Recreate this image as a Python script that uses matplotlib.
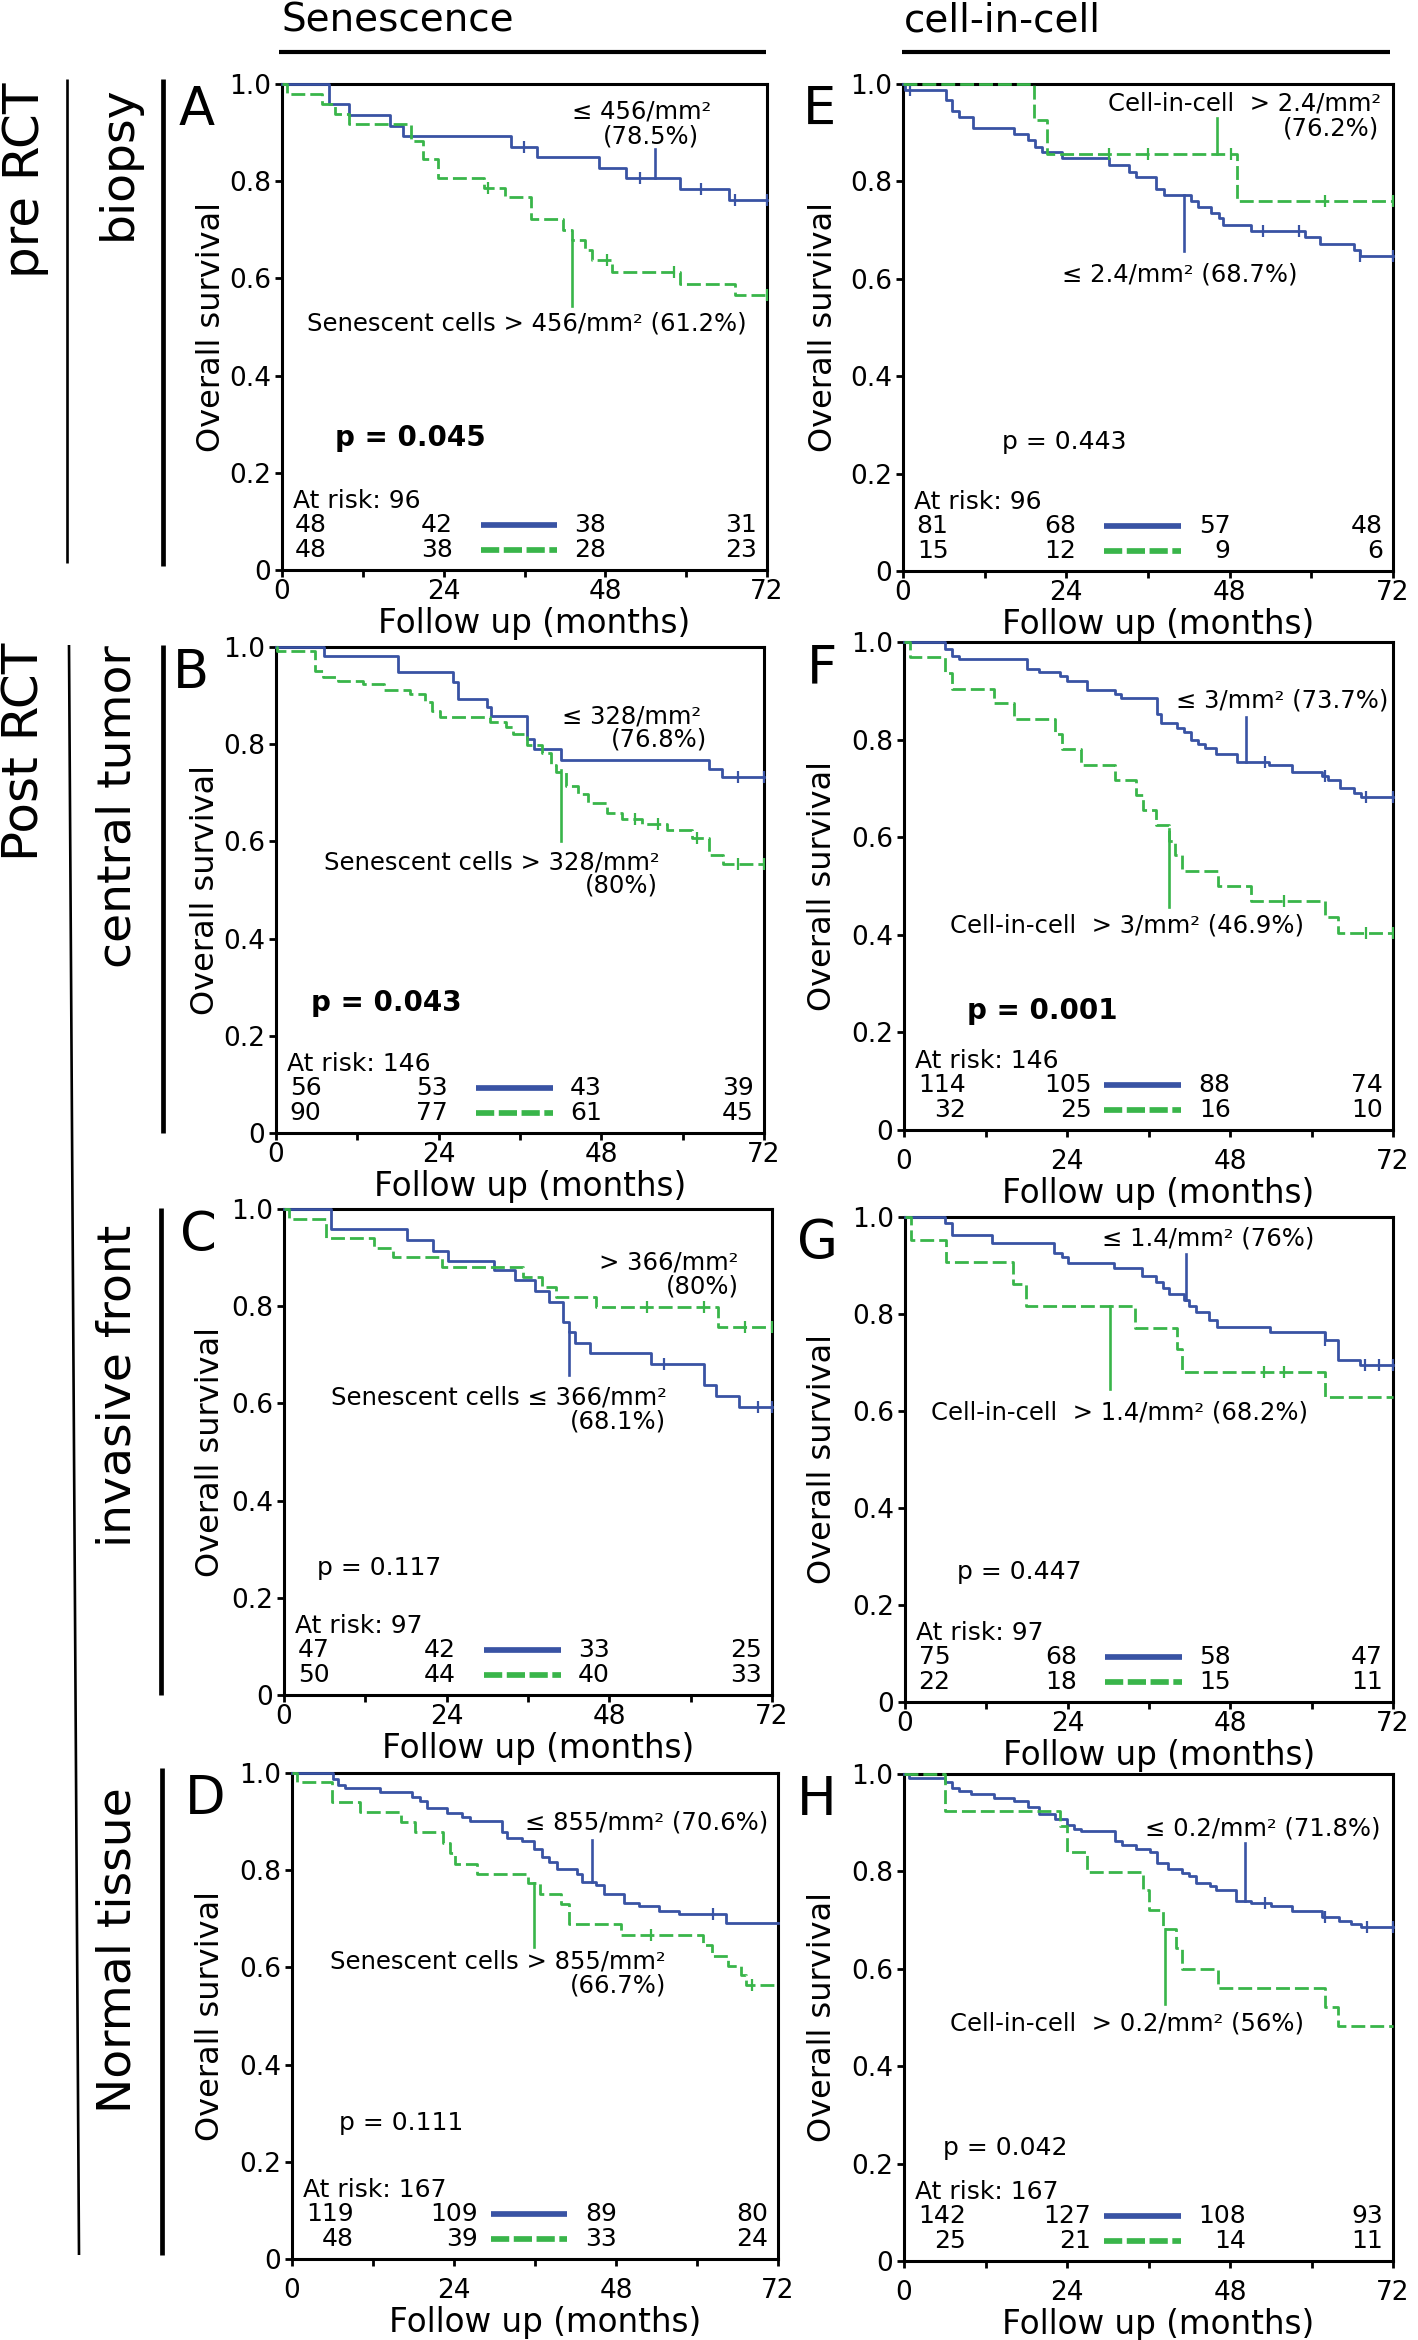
#!/usr/bin/env python3
"""Kaplan-Meier panels A-H: senescence vs cell-in-cell, pre/post RCT."""
import numpy as np
import matplotlib
matplotlib.use("Agg")
import matplotlib.pyplot as plt

W_PX, H_PX = 1418, 2340
BLUE = "#3953a4"
GREEN = "#39b54a"

# ---------------------------------------------------------------- data
# step times (months), survival after each step, censor times
# A: senescence, pre RCT biopsy
a_lo_t = [7.0, 9.9, 16.1, 17.9, 34.0, 37.9, 47.1, 51.0, 59.1, 66.3]
a_lo_s = [0.958, 0.936, 0.913, 0.893, 0.871, 0.850, 0.828, 0.806, 0.783, 0.761]
a_lo_c = [35.9, 53.2, 62.2, 67.2, 72.0]
a_hi_t = [0.7, 5.9, 7.9, 9.9, 19.1, 20.9, 23.2, 30.0, 33.1, 37.0, 41.7, 43.0,
          45.0, 46.0, 49.0, 59.1, 67.2]
a_hi_s = [0.979, 0.958, 0.938, 0.917, 0.883, 0.845, 0.807, 0.785, 0.767, 0.722,
          0.700, 0.679, 0.658, 0.638, 0.614, 0.589, 0.565]
a_hi_c = [30.6, 48.2, 58.2, 72.0]
a_risk_lo = [48, 42, 38, 31]
a_risk_hi = [48, 38, 28, 23]

# E: cell-in-cell, pre RCT biopsy
e_lo_t = [0.3, 6.3, 7.2, 8.2, 10.3, 16.3, 18.4, 19.4, 20.4, 23.4, 30.2, 33.2,
          34.2, 37.2, 38.3, 42.3, 43.3, 45.3, 46.4, 47.0, 51.1, 59.0, 61.2,
          66.3, 67.1]
e_lo_s = [0.988, 0.968, 0.945, 0.933, 0.909, 0.897, 0.885, 0.871, 0.860, 0.848,
          0.834, 0.820, 0.809, 0.785, 0.773, 0.760, 0.748, 0.736, 0.724, 0.710,
          0.698, 0.686, 0.672, 0.660, 0.647]
e_lo_c = [1.1, 52.9, 58.2, 67.1, 72.0]
e_hi_t = [19.2, 21.2, 49.1]
e_hi_s = [0.927, 0.856, 0.759]
e_hi_c = [30.2, 36.0, 48.2, 62.0, 72.0]
e_risk_lo = [81, 68, 57, 48]
e_risk_hi = [15, 12, 9, 6]

# B: senescence, post RCT central tumor
b_lo_t = [7.1, 18.0, 26.1, 26.8, 31.1, 31.7, 37.0, 38.0, 42.1, 63.9, 65.8]
b_lo_s = [0.982, 0.948, 0.929, 0.893, 0.876, 0.858, 0.810, 0.790, 0.768,
          0.750, 0.732]
b_lo_c = [68.1, 72.0]
b_hi_t = [0.2, 5.7, 7.0, 9.2, 12.9, 16.0, 19.8, 22.0, 23.0, 24.2, 31.6, 34.0,
          34.9, 37.0, 39.3, 40.6, 41.3, 42.8, 44.5, 46.1, 48.9, 51.1, 54.0,
          57.7, 61.4, 63.9, 66.0]
b_hi_s = [0.992, 0.950, 0.939, 0.931, 0.923, 0.911, 0.903, 0.887, 0.868, 0.856,
          0.846, 0.836, 0.822, 0.798, 0.781, 0.757, 0.743, 0.714, 0.698, 0.679,
          0.659, 0.647, 0.635, 0.624, 0.606, 0.572, 0.553]
b_hi_c = [52.9, 56.4, 62.1, 68.1, 72.0]
b_risk_lo = [56, 53, 43, 39]
b_risk_hi = [90, 77, 61, 45]

# F: cell-in-cell, post RCT central tumor
f_lo_t = [6.1, 7.1, 8.1, 18.1, 19.9, 22.9, 24.0, 27.0, 31.1, 32.0, 37.2, 37.9,
          40.2, 41.2, 42.3, 43.3, 44.3, 46.0, 49.0, 53.8, 57.1, 61.5, 62.4,
          64.2, 66.3, 67.3]
f_lo_s = [0.986, 0.972, 0.965, 0.945, 0.939, 0.931, 0.921, 0.902, 0.894, 0.886,
          0.852, 0.833, 0.823, 0.815, 0.800, 0.792, 0.782, 0.771, 0.755, 0.747,
          0.734, 0.725, 0.717, 0.700, 0.690, 0.682]
f_lo_c = [53.2, 62.0, 68.0, 72.0]
f_hi_t = [0.9, 6.1, 7.0, 13.2, 16.2, 22.2, 23.2, 26.0, 31.1, 34.1, 35.2, 37.1,
          39.0, 39.9, 40.9, 46.2, 51.1, 62.0, 63.9]
f_hi_s = [0.969, 0.937, 0.904, 0.876, 0.843, 0.811, 0.781, 0.748, 0.718, 0.687,
          0.656, 0.625, 0.593, 0.564, 0.530, 0.501, 0.470, 0.436, 0.403]
f_hi_c = [55.9, 68.0, 72.0]
f_risk_lo = [114, 105, 88, 74]
f_risk_hi = [32, 25, 16, 10]

# C: senescence, post RCT invasive front
c_lo_t = [7.0, 18.2, 22.0, 24.2, 31.0, 34.1, 37.0, 39.1, 41.1, 42.0, 43.0,
          45.1, 54.1, 62.0, 63.8, 67.1]
c_lo_s = [0.959, 0.936, 0.914, 0.894, 0.874, 0.853, 0.831, 0.809, 0.768, 0.747,
          0.725, 0.703, 0.682, 0.638, 0.616, 0.593]
c_lo_c = [56.1, 70.0, 72.0]
c_hi_t = [0.7, 6.2, 13.3, 16.1, 23.3, 35.2, 38.1, 40.1, 46.0, 64.0]
c_hi_s = [0.980, 0.941, 0.920, 0.901, 0.880, 0.860, 0.840, 0.819, 0.799, 0.757]
c_hi_c = [53.5, 62.0, 68.0, 72.0]
c_risk_lo = [47, 42, 33, 25]
c_risk_hi = [50, 44, 40, 33]

# G: cell-in-cell, post RCT invasive front
g_lo_t = [5.9, 6.9, 12.9, 22.0, 23.1, 24.0, 30.9, 35.0, 37.0, 38.0, 39.0, 41.1,
          41.9, 42.9, 44.8, 46.0, 53.9, 62.0, 63.9, 67.1]
g_lo_s = [0.988, 0.963, 0.947, 0.925, 0.917, 0.906, 0.894, 0.879, 0.866, 0.853,
          0.841, 0.829, 0.817, 0.804, 0.788, 0.773, 0.762, 0.747, 0.706, 0.694]
g_lo_c = [62.0, 67.9, 69.9, 72.0]
g_hi_t = [0.9, 6.0, 16.0, 17.9, 34.0, 40.1, 40.9, 61.9]
g_hi_s = [0.953, 0.908, 0.862, 0.817, 0.772, 0.727, 0.681, 0.629]
g_hi_c = [52.9, 55.9]
g_risk_lo = [75, 68, 58, 47]
g_risk_hi = [22, 18, 15, 11]

# D: senescence, post RCT normal tissue
d_lo_t = [6.0, 6.8, 7.9, 13.0, 17.8, 18.9, 20.0, 23.0, 25.2, 26.3, 31.1, 31.8,
          34.0, 35.9, 37.0, 38.1, 39.2, 42.2, 43.0, 45.1, 46.2, 49.2, 51.4,
          54.3, 57.3, 64.3]
d_lo_s = [0.988, 0.976, 0.969, 0.961, 0.950, 0.943, 0.927, 0.917, 0.909, 0.902,
          0.878, 0.866, 0.861, 0.843, 0.827, 0.817, 0.803, 0.793, 0.776, 0.769,
          0.752, 0.732, 0.726, 0.717, 0.709, 0.691]
d_lo_c = [62.3]
d_hi_t = [0.7, 5.9, 10.1, 16.2, 18.2, 22.3, 23.4, 24.1, 27.4, 34.9, 36.8, 39.9,
          41.0, 48.8, 60.9, 62.2, 64.6, 66.5, 67.2]
d_hi_s = [0.982, 0.941, 0.919, 0.899, 0.878, 0.856, 0.835, 0.813, 0.793, 0.774,
          0.752, 0.730, 0.689, 0.667, 0.646, 0.624, 0.602, 0.585, 0.563]
d_hi_c = [53.2, 68.1]
d_risk_lo = [119, 109, 89, 80]
d_risk_hi = [48, 39, 33, 24]

# H: cell-in-cell, post RCT normal tissue
h_lo_t = [0.7, 6.1, 7.0, 8.1, 9.8, 13.2, 16.2, 18.3, 19.9, 22.3, 24.0, 25.0,
          26.0, 31.1, 32.1, 34.1, 36.2, 37.2, 38.9, 40.9, 41.9, 43.0, 45.0,
          46.0, 48.9, 51.1, 54.1, 57.1, 61.5, 64.0, 65.8, 67.3]
h_lo_s = [0.992, 0.983, 0.972, 0.965, 0.958, 0.951, 0.945, 0.933, 0.917, 0.907,
          0.896, 0.888, 0.882, 0.862, 0.854, 0.846, 0.839, 0.817, 0.804, 0.797,
          0.791, 0.776, 0.770, 0.762, 0.740, 0.735, 0.728, 0.719, 0.707, 0.699,
          0.693, 0.685]
h_lo_c = [53.2, 62.0, 68.1, 72.0]
h_hi_t = [6.1, 23.0, 24.0, 27.0, 35.2, 36.1, 38.2, 40.1, 40.9, 46.2, 62.0, 63.9]
h_hi_s = [0.923, 0.894, 0.839, 0.799, 0.762, 0.720, 0.681, 0.642, 0.600, 0.561,
          0.521, 0.482]
h_hi_c = []
h_risk_lo = [142, 127, 108, 93]
h_risk_hi = [25, 21, 14, 11]

panel_keys = ["A", "E", "B", "F", "C", "G", "D", "H"]
totals = [96, 96, 146, 146, 97, 97, 167, 167]
p_values = ["0.045", "0.443", "0.043", "0.001", "0.117", "0.447", "0.111", "0.042"]
p_bold = [True, False, True, True, False, False, False, False]

# annotation strings per panel
notes = {
    "A": ["≤ 456/mm²", "(78.5%)", "Senescent cells > 456/mm² (61.2%)"],
    "E": ["≤ 2.4/mm² (68.7%)", "Cell-in-cell  > 2.4/mm²", "(76.2%)"],
    "B": ["≤ 328/mm²", "(76.8%)", "Senescent cells > 328/mm²", "(80%)"],
    "F": ["≤ 3/mm² (73.7%)", "Cell-in-cell  > 3/mm² (46.9%)"],
    "C": ["Senescent cells ≤ 366/mm²", "(68.1%)", "> 366/mm²", "(80%)"],
    "G": ["≤ 1.4/mm² (76%)", "Cell-in-cell  > 1.4/mm² (68.2%)"],
    "D": ["≤ 855/mm² (70.6%)", "Senescent cells > 855/mm²", "(66.7%)"],
    "H": ["≤ 0.2/mm² (71.8%)", "Cell-in-cell  > 0.2/mm² (56%)"],
}

curves = {
    "A": ((a_lo_t, a_lo_s, a_lo_c), (a_hi_t, a_hi_s, a_hi_c), a_risk_lo, a_risk_hi),
    "E": ((e_lo_t, e_lo_s, e_lo_c), (e_hi_t, e_hi_s, e_hi_c), e_risk_lo, e_risk_hi),
    "B": ((b_lo_t, b_lo_s, b_lo_c), (b_hi_t, b_hi_s, b_hi_c), b_risk_lo, b_risk_hi),
    "F": ((f_lo_t, f_lo_s, f_lo_c), (f_hi_t, f_hi_s, f_hi_c), f_risk_lo, f_risk_hi),
    "C": ((c_lo_t, c_lo_s, c_lo_c), (c_hi_t, c_hi_s, c_hi_c), c_risk_lo, c_risk_hi),
    "G": ((g_lo_t, g_lo_s, g_lo_c), (g_hi_t, g_hi_s, g_hi_c), g_risk_lo, g_risk_hi),
    "D": ((d_lo_t, d_lo_s, d_lo_c), (d_hi_t, d_hi_s, d_hi_c), d_risk_lo, d_risk_hi),
    "H": ((h_lo_t, h_lo_s, h_lo_c), (h_hi_t, h_hi_s, h_hi_c), h_risk_lo, h_risk_hi),
}

# ---------------------------------------------------------------- layout
# axes boxes in pixels (left, top, right, bottom)
AX_PX = {
    "A": (282, 84, 767, 570), "E": (903, 84, 1393, 571),
    "B": (276, 647, 764, 1133), "F": (904, 642, 1393, 1130),
    "C": (284, 1209, 772, 1695), "G": (905, 1217, 1393, 1702),
    "D": (292, 1773, 778, 2259), "H": (904, 1774, 1393, 2261),
}
# text placement (x, y, ha) for each note, in data units
NOTE_POS = {
    "A": [(53.4, 0.943, "center"), (54.7, 0.893, "center"), (36.4, 0.508, "center")],
    "E": [(40.7, 0.609, "center"), (70.2, 0.960, "right"), (70.0, 0.909, "right")],
    "B": [(62.7, 0.856, "right"), (63.6, 0.809, "right"), (56.6, 0.557, "right"),
          (56.4, 0.509, "right")],
    "F": [(71.3, 0.880, "right"), (32.9, 0.419, "center")],
    "C": [(56.5, 0.613, "right"), (56.3, 0.562, "right"), (67.1, 0.890, "right"),
          (67.1, 0.841, "right")],
    "G": [(44.7, 0.955, "center"), (31.7, 0.597, "center")],
    "D": [(70.5, 0.898, "right"), (55.4, 0.612, "right"), (55.4, 0.563, "right")],
    "H": [(52.8, 0.888, "center"), (32.9, 0.488, "center")],
}
# pointer lines: (x, y0, y1, group)
POINTERS = {
    "A": [(55.4, 0.806, 0.866, "lo"), (43.0, 0.679, 0.543, "hi")],
    "E": [(41.3, 0.773, 0.657, "lo"), (46.2, 0.856, 0.931, "hi")],
    "B": [(42.1, 0.746, 0.600, "hi")],
    "F": [(50.4, 0.755, 0.847, "lo"), (39.0, 0.617, 0.456, "hi")],
    "C": [(42.0, 0.747, 0.658, "lo")],
    "G": [(41.4, 0.829, 0.923, "lo"), (30.2, 0.817, 0.646, "hi")],
    "D": [(44.5, 0.776, 0.862, "lo"), (35.9, 0.774, 0.643, "hi")],
    "H": [(50.2, 0.740, 0.858, "lo"), (38.5, 0.681, 0.528, "hi")],
}
P_POS = {"A": (7.9, 0.272), "E": (14.5, 0.265), "B": (5.1, 0.268),
         "F": (9.3, 0.244), "C": (4.8, 0.261), "G": (7.7, 0.268),
         "D": (7.0, 0.280), "H": (5.7, 0.232)}
YLAB_X = {"A": -0.114, "B": -0.112, "C": -0.118, "D": -0.136,
          "E": -0.130, "F": -0.135, "G": -0.137, "H": -0.135}
LOW_ROW = {"F", "D", "H"}        # panels whose x labels sit a little lower

RISK_FS = 18
RISK_Y = [0.142, 0.092, 0.042]   # "At risk" line, low group, high group

plt.rcParams.update({"font.family": ["DejaVu Sans"], "figure.facecolor": "white"})
fig = plt.figure(figsize=(W_PX / 100, H_PX / 100), dpi=100)

# overlay in pixel coordinates for headers and row labels
ov = fig.add_axes([0, 0, 1, 1])
ov.set_xlim(0, W_PX)
ov.set_ylim(H_PX, 0)
ov.axis("off")
ov.text(281, 32, "Senescence", fontsize=28, ha="left", va="baseline")
ov.text(904, 32, "cell-in-cell", fontsize=28, ha="left", va="baseline")
ov.plot([279, 766], [52, 52], color="black", lw=3.0, solid_capstyle="butt")
ov.plot([902, 1390], [52, 52], color="black", lw=3.0, solid_capstyle="butt")

ov.text(25, 180, "pre RCT", fontsize=36, rotation=90, ha="center", va="center")
ov.text(25, 752, "Post RCT", fontsize=36, rotation=90, ha="center", va="center")
ov.plot([67, 67], [79, 563], color="black", lw=1.9, solid_capstyle="butt")
ov.plot([69, 79], [645, 2255], color="black", lw=1.9, solid_capstyle="butt")

row_names = ["biopsy", "central tumor", "invasive front", "Normal tissue"]
row_centers = [163, 807, 1386, 1950]
row_bars = [(163, 79, 566), (163, 645, 1133), (161, 1208, 1695), (162, 1768, 2255)]
for name, yc, (xb, y0, y1) in zip(row_names, row_centers, row_bars):
    ov.text(118, yc, name, fontsize=34, rotation=90, ha="center", va="center")
    ov.plot([xb, xb], [y0, y1], color="black", lw=3.4, solid_capstyle="butt")


def surv_at(t, s, x):
    idx = np.searchsorted(t, x, side="right")
    return np.r_[1.0, s][idx]


def draw_group(ax, t, s, c, color, dashed):
    xs = np.r_[0.0, t, 72.0]
    ys = np.r_[1.0, s, s[-1]]
    ls = (0, (5, 1.8)) if dashed else "-"
    ax.step(xs, ys, where="post", color=color, lw=2.0, ls=ls, zorder=3,
            clip_on=False)
    if len(c):
        ax.plot(c, surv_at(t, s, np.asarray(c)), ls="none", marker="|", ms=8,
                mew=1.6, color=color, zorder=3, clip_on=False)


for i, key in enumerate(panel_keys):
    l, t_, r, b = AX_PX[key]
    ax = fig.add_axes([l / W_PX, 1 - b / H_PX, (r - l) / W_PX, (b - t_) / H_PX])
    ax.set_xlim(0, 72)
    ax.set_ylim(0, 1)
    for sp in ax.spines.values():
        sp.set_linewidth(2.2)
    ax.set_xticks([0, 12, 24, 36, 48, 60, 72])
    ax.set_xticklabels(["0", "", "24", "", "48", "", "72"])
    ax.set_yticks([0, 0.2, 0.4, 0.6, 0.8, 1.0])
    ax.set_yticklabels(["0", "0.2", "0.4", "0.6", "0.8", "1.0"])
    ax.tick_params(axis="both", direction="out", length=5, width=2, labelsize=19)
    ax.tick_params(axis="y", pad=3.0)
    low = key in LOW_ROW
    ax.tick_params(axis="x", pad=9.0 if low else 1.5)
    ax.set_xlabel("Follow up (months)", fontsize=23.5)
    ax.set_ylabel("Overall survival", fontsize=23)
    ax.yaxis.set_label_coords(YLAB_X[key], 0.5)
    ax.xaxis.set_label_coords(0.52, -0.097 if low else -0.076)

    ax.text(-67 / (r - l), 1.0, key, transform=ax.transAxes, fontsize=38,
            ha="right", va="top")

    lo, hi, risk_lo, risk_hi = curves[key]
    draw_group(ax, *lo, BLUE, False)
    draw_group(ax, *hi, GREEN, True)

    for x, y0, y1, grp in POINTERS[key]:
        ax.plot([x, x], [y0, y1], color=BLUE if grp == "lo" else GREEN,
                lw=1.9, zorder=3)
    for txt, (x, y, ha) in zip(notes[key], NOTE_POS[key]):
        ax.text(x, y, txt, fontsize=17.5, ha=ha, va="center")

    px, py = P_POS[key]
    ax.text(px, py, f"p = {p_values[i]}", va="center", ha="left",
            fontsize=20 if p_bold[i] else 18,
            fontweight="bold" if p_bold[i] else "normal")

    # at-risk table
    ax.text(1.6, RISK_Y[0], f"At risk: {totals[i]}", fontsize=RISK_FS,
            va="center", ha="left")
    nd = [max(len(str(a)), len(str(bb))) for a, bb in zip(risk_lo, risk_hi)]
    cols = [1.8 + 2.45 * nd[0], 21.0 + 2.2 * nd[1], 43.5 + 2.3 * nd[2], 70.5]
    for row_y, vals in ((RISK_Y[1], risk_lo), (RISK_Y[2], risk_hi)):
        for cx, v in zip(cols, vals):
            ax.text(cx, row_y, str(v), fontsize=RISK_FS, va="center", ha="right")
    ax.plot([29.5, 40.8], [RISK_Y[1]] * 2, color=BLUE, lw=4.1,
            solid_capstyle="butt")
    ax.plot([29.5, 40.8], [RISK_Y[2]] * 2, color=GREEN, lw=4.1,
            ls=(0, (3.2, 0.8)), dash_capstyle="butt")

fig.savefig("out.png", dpi=100)
print("wrote out.png")
